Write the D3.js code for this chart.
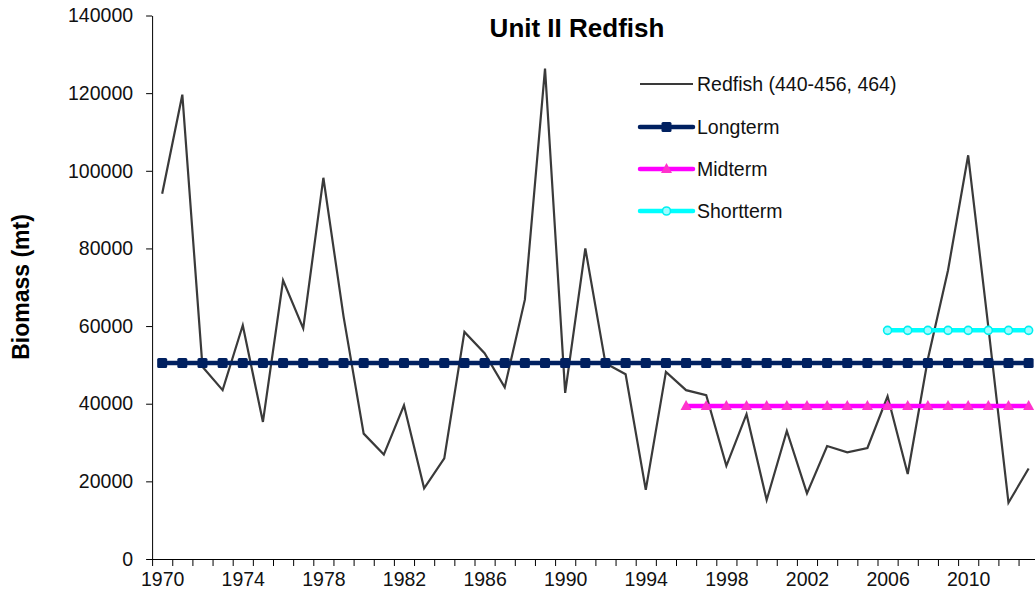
<!DOCTYPE html>
<html>
<head>
<meta charset="utf-8">
<script src="https://cdn.jsdelivr.net/npm/d3@7"></script>
<style>
  body { margin: 0; background: #fff; }
  svg { font-family: "Liberation Sans", Arial, sans-serif; }
</style>
</head>
<body>
<script>
const width = 1035;
const height = 599;

// categories
const years = [1970, 1971, 1972, 1973, 1974, 1975, 1976, 1977, 1978, 1979,
  1980, 1981, 1982, 1983, 1984, 1985, 1986, 1987, 1988, 1989,
  1990, 1991, 1992, 1993, 1994, 1995, 1996, 1997, 1998, 1999,
  2000, 2001, 2002, 2003, 2004, 2005, 2006, 2007, 2008, 2009,
  2010, 2011, 2012, 2013];

// Redfish (440-456, 464) biomass, mt
const redfish = [94100, 119600, 49500, 43500, 60200, 35300, 71800, 59400, 98200, 62500,
  32300, 26900, 39600, 18200, 25900, 58500, 53000, 44200, 66800, 126300,
  42800, 80000, 50400, 47600, 17800, 48200, 43500, 42200, 24000, 37300,
  15200, 33000, 16900, 29100, 27500, 28600, 41900, 21900, 51500, 74400,
  104000, 59800, 14500, 23300];

// reference means and the years they span
const longtermMean = 50500;
const longtermYears = [1970, 2013];
const midtermMean = 39400;
const midtermYears = [1996, 2013];
const shorttermMean = 58900;
const shorttermYears = [2006, 2013];

const yTicks = [0, 20000, 40000, 60000, 80000, 100000, 120000, 140000];
const xLabelYears = [1970, 1974, 1978, 1982, 1986, 1990, 1994, 1998, 2002, 2006, 2010];

const seriesNames = ['Redfish (440-456, 464)', 'Longterm', 'Midterm', 'Shortterm'];

const svg = d3.select('body').append('svg')
  .attr('width', width)
  .attr('height', height);

// x: linear over year, half a year either side of the categories
const x = d3.scaleLinear()
  .domain([years[0] - 0.5, years[years.length - 1] + 0.5])
  .range([152.1, 1038.7]);

const y = d3.scaleLinear()
  .domain([0, 140000])
  .range([559, 15.5]);

// axes
const xTickMarks = years.map(d => d - 0.5).concat([years[years.length - 1] + 0.5]);

svg.append('g')
  .attr('transform', `translate(0,${y(0)})`)
  .call(d3.axisBottom(x).tickValues(xTickMarks).tickFormat('').tickSize(7).tickSizeOuter(0))
  .call(g => g.selectAll('line, path').attr('stroke', '#000'));

svg.append('g')
  .attr('transform', `translate(0,${y(0)})`)
  .call(d3.axisBottom(x).tickValues(xLabelYears).tickFormat(d3.format('d')).tickSize(0).tickPadding(13))
  .call(g => g.select('.domain').remove())
  .call(g => g.selectAll('text')
    .attr('font-size', '19.5px')
    .attr('font-family', '"Liberation Sans", Arial, sans-serif')
    .attr('fill', '#111'));

svg.append('g')
  .attr('transform', `translate(${x.range()[0]},0)`)
  .call(d3.axisLeft(y).tickValues(yTicks).tickFormat(d3.format('d')).tickSize(6).tickSizeOuter(0).tickPadding(13))
  .call(g => g.selectAll('line, path').attr('stroke', '#000'))
  .call(g => g.selectAll('text')
    .attr('font-size', '19.5px')
    .attr('font-family', '"Liberation Sans", Arial, sans-serif')
    .attr('fill', '#111'));

// title + y label
svg.append('text')
  .attr('x', 577)
  .attr('y', 37)
  .attr('text-anchor', 'middle')
  .attr('font-size', '26px')
  .attr('font-weight', 'bold')
  .text('Unit II Redfish');

svg.append('text')
  .attr('transform', 'translate(29,287) rotate(-90)')
  .attr('text-anchor', 'middle')
  .attr('font-size', '23px')
  .attr('font-weight', 'bold')
  .text('Biomass (mt)');

// series
const line = d3.line().x(d => x(d[0])).y(d => y(d[1]));

const redfishPts = years.map((yr, i) => [yr, redfish[i]]);
const meanPts = (mean, span) => years.filter(yr => yr >= span[0] && yr <= span[1]).map(yr => [yr, mean]);

svg.append('path')
  .datum(redfishPts)
  .attr('fill', 'none')
  .attr('stroke', '#3a3a3a')
  .attr('stroke-width', 2.2)
  .attr('stroke-linejoin', 'miter')
  .attr('d', line);

const styles = [
  { pts: meanPts(longtermMean, longtermYears), color: '#002060', marker: 'square', mfill: '#002060', mstroke: '#002060' },
  { pts: meanPts(midtermMean, midtermYears), color: '#ff00ff', marker: 'triangle', mfill: '#ff33cc', mstroke: '#ff33cc' },
  { pts: meanPts(shorttermMean, shorttermYears), color: '#00ffff', marker: 'circle', mfill: '#9ffcff', mstroke: '#00f0f0' }
];

function drawMarker(g, type, fill, stroke) {
  if (type === 'square') {
    g.append('rect').attr('x', -5).attr('y', -5).attr('width', 10).attr('height', 10)
      .attr('rx', 1.5).attr('fill', fill);
  } else if (type === 'triangle') {
    g.append('path').attr('d', 'M0,-6L5.5,4L-5.5,4Z').attr('fill', fill);
  } else {
    g.append('circle').attr('r', 4).attr('fill', fill)
      .attr('stroke', stroke).attr('stroke-width', 1.6);
  }
}

styles.forEach(s => {
  svg.append('path')
    .datum(s.pts)
    .attr('fill', 'none')
    .attr('stroke', s.color)
    .attr('stroke-width', 4.5)
    .attr('d', line);

  svg.append('g').selectAll('g')
    .data(s.pts)
    .join('g')
      .attr('transform', d => `translate(${x(d[0])},${y(d[1])})`)
      .each(function () { drawMarker(d3.select(this), s.marker, s.mfill, s.mstroke); });
});

// legend
const legend = svg.append('g');
const legendY = [84, 127, 169, 211];

seriesNames.forEach((name, i) => {
  const row = legend.append('g').attr('transform', `translate(640,${legendY[i]})`);
  if (i === 0) {
    row.append('line').attr('x1', 0).attr('x2', 53)
      .attr('stroke', '#3a3a3a').attr('stroke-width', 2.2);
  } else {
    const s = styles[i - 1];
    row.append('line').attr('x1', 0).attr('x2', 53)
      .attr('stroke', s.color).attr('stroke-width', 4.5).attr('stroke-linecap', 'round');
    const m = row.append('g').attr('transform', 'translate(26.5,0)');
    drawMarker(m, s.marker, s.mfill, s.mstroke);
  }
  row.append('text')
    .attr('x', 57)
    .attr('y', 0)
    .attr('dy', '0.35em')
    .attr('font-size', '19.5px')
    .attr('fill', '#111')
    .text(name);
});
</script>
</body>
</html>
